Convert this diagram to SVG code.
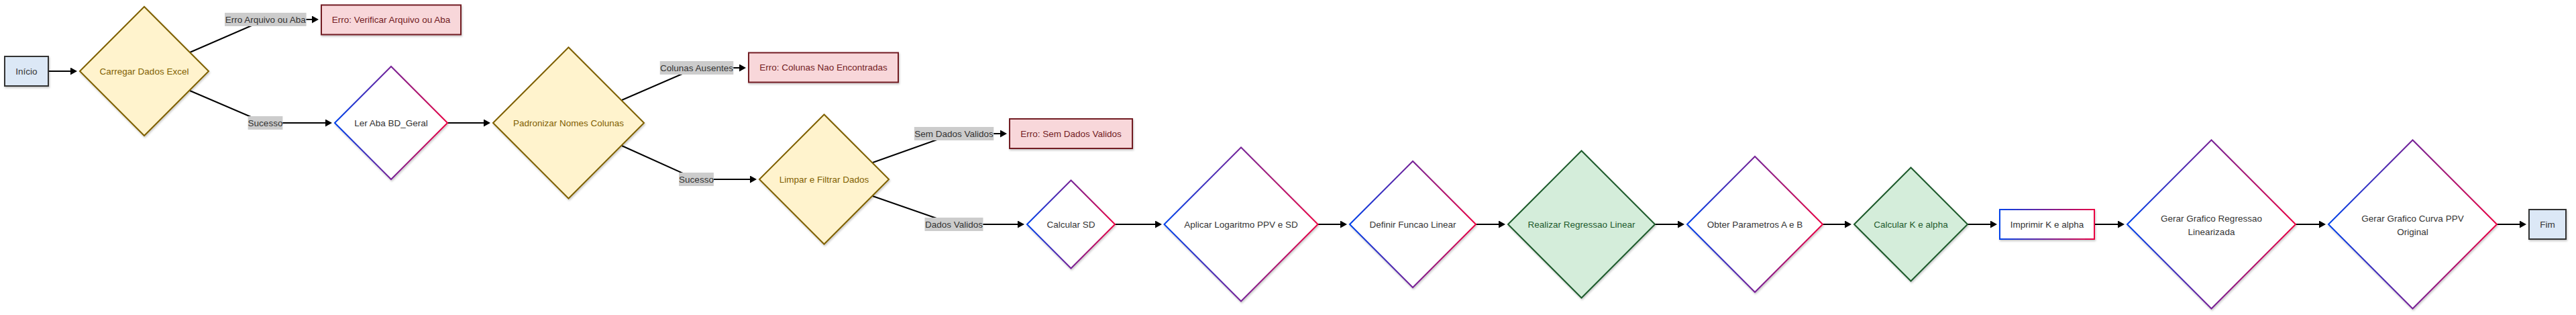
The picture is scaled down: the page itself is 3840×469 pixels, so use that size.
<svg xmlns="http://www.w3.org/2000/svg" width="3840" height="469" viewBox="0 0 3840 469">
<defs>
<linearGradient id="grad" x1="0" y1="0" x2="1" y2="0">
<stop offset="0" stop-color="#0042eb"/>
<stop offset="1" stop-color="#eb0042"/>
</linearGradient>
<filter id="shadow" x="-10%" y="-10%" width="130%" height="130%">
<feDropShadow dx="1" dy="2" stdDeviation="1.5" flood-color="#000" flood-opacity="0.22"/>
</filter>
<marker id="arrow" viewBox="0 0 10 10" refX="5" refY="5" markerWidth="10" markerHeight="11" markerUnits="userSpaceOnUse" orient="auto" preserveAspectRatio="none">
<path d="M0,0 L10,5 L0,10 z" fill="#000"/>
</marker>
</defs>
<style>
text{font-family:"Liberation Sans",Arial,sans-serif;font-size:13.5px;text-anchor:middle;fill:#333}
.term{fill:#dce8f6;stroke:#333;stroke-width:2;filter:url(#shadow)}
.warn{fill:#fff3cd;stroke:#7f6000;stroke-width:2;filter:url(#shadow)}
.warn-t{fill:#7f6000}
.err{fill:#f8d7da;stroke:#721c24;stroke-width:2;filter:url(#shadow)}
.err-t{fill:#721c24}
.ok{fill:#d4edda;stroke:#1d5a2c;stroke-width:2;filter:url(#shadow)}
.ok-t{fill:#1d5a2c}
.grad{fill:#fff;stroke:url(#grad);stroke-width:2;filter:url(#shadow)}
.edge{fill:none;stroke:#000;stroke-width:2;marker-end:url(#arrow)}
.lbl{fill:#cccccc}
</style>
<rect width="3840" height="469" fill="#fff"/>
<g id="connectors">
<path class="edge" d="M72,106 L110,106"/>
<path class="edge" d="M283,78 L396,29 L470,29"/>
<path class="edge" d="M283,135 L395,183 L490,183"/>
<path class="edge" d="M667,183 L726,183"/>
<path class="edge" d="M927,149 L1038,101 L1107,101"/>
<path class="edge" d="M927,217 L1038,267 L1123,267"/>
<path class="edge" d="M1301,242 L1422,199 L1496,199"/>
<path class="edge" d="M1301,292 L1422,334 L1522,334"/>
<path class="edge" d="M1662,334 L1727,334"/>
<path class="edge" d="M1964,334 L2003,334"/>
<path class="edge" d="M2200,334 L2239,334"/>
<path class="edge" d="M2467,334 L2506,334"/>
<path class="edge" d="M2717,334 L2755,334"/>
<path class="edge" d="M2933,334 L2972,334"/>
<path class="edge" d="M3122,334 L3162,334"/>
<path class="edge" d="M3422,334 L3462,334"/>
<path class="edge" d="M3722,334 L3761,334"/>
<g id="edge-labels">
<rect class="lbl" x="335" y="19" width="121.6" height="20"/>
<text x="395.8" y="33.8">Erro Arquivo ou Aba</text>
<rect class="lbl" x="369.6" y="173" width="51.8" height="20"/>
<text x="395.5" y="187.8">Sucesso</text>
<rect class="lbl" x="983.7" y="91" width="109.6" height="20"/>
<text x="1038.5" y="105.8">Colunas Ausentes</text>
<rect class="lbl" x="1012.1" y="257" width="51.8" height="20"/>
<text x="1038" y="271.8">Sucesso</text>
<rect class="lbl" x="1362.8" y="189" width="118.5" height="20"/>
<text x="1422" y="203.8">Sem Dados Validos</text>
<rect class="lbl" x="1378.5" y="324" width="87" height="20"/>
<text x="1422" y="338.8">Dados Validos</text>
</g>
</g>
<g id="inicio">
<rect class="term" x="7" y="84" width="65" height="44"/>
<text x="39.5" y="110.8">Início</text>
</g>
<g id="carregar">
<polygon class="warn" points="119,106 215,10 311,106 215,202"/>
<text class="warn-t" x="215" y="110.8">Carregar Dados Excel</text>
</g>
<g id="erro-arquivo">
<rect class="err" x="479" y="7.5" width="208" height="44"/>
<text class="err-t" x="583" y="34.3">Erro: Verificar Arquivo ou Aba</text>
</g>
<g id="ler-aba">
<polygon class="grad" points="499,183 583,99 667,183 583,267"/>
<text x="583" y="187.8">Ler Aba BD_Geral</text>
</g>
<g id="padronizar">
<polygon class="warn" points="735,183 847.5,70.5 960,183 847.5,295.5"/>
<text class="warn-t" x="847.5" y="187.8">Padronizar Nomes Colunas</text>
</g>
<g id="erro-colunas">
<rect class="err" x="1116" y="78.5" width="223" height="44"/>
<text class="err-t" x="1227.5" y="105.3">Erro: Colunas Nao Encontradas</text>
</g>
<g id="limpar">
<polygon class="warn" points="1132,267 1228.5,170.5 1325,267 1228.5,363.5"/>
<text class="warn-t" x="1228.5" y="271.8">Limpar e Filtrar Dados</text>
</g>
<g id="erro-sem-dados">
<rect class="err" x="1505" y="177" width="183" height="44"/>
<text class="err-t" x="1596.5" y="203.8">Erro: Sem Dados Validos</text>
</g>
<g id="calcular-sd">
<polygon class="grad" points="1531,334 1596.5,268.5 1662,334 1596.5,399.5"/>
<text x="1596.5" y="338.8">Calcular SD</text>
</g>
<g id="aplicar-log">
<polygon class="grad" points="1735.5,334 1850,219.5 1964.5,334 1850,448.5"/>
<text x="1850" y="338.8">Aplicar Logaritmo PPV e SD</text>
</g>
<g id="definir-funcao">
<polygon class="grad" points="2012,334 2106,240 2200,334 2106,428"/>
<text x="2106" y="338.8">Definir Funcao Linear</text>
</g>
<g id="realizar-regressao">
<polygon class="ok" points="2248,334 2357.5,224.5 2467,334 2357.5,443.5"/>
<text class="ok-t" x="2357.5" y="338.8">Realizar Regressao Linear</text>
</g>
<g id="obter-parametros">
<polygon class="grad" points="2515,334 2616,233 2717,334 2616,435"/>
<text x="2616" y="338.8">Obter Parametros A e B</text>
</g>
<g id="calcular-k">
<polygon class="ok" points="2764,334 2848.5,249.5 2933,334 2848.5,418.5"/>
<text class="ok-t" x="2848.5" y="338.8">Calcular K e alpha</text>
</g>
<g id="imprimir">
<rect class="grad" x="2981" y="312" width="141" height="44"/>
<text x="3051.5" y="338.8">Imprimir K e alpha</text>
</g>
<g id="grafico-regressao">
<polygon class="grad" points="3171,334 3296.5,208.5 3422,334 3296.5,459.5"/>
<text x="3296.5" y="329.8">Gerar Grafico Regressao</text>
<text x="3296.5" y="349.8">Linearizada</text>
</g>
<g id="grafico-curva">
<polygon class="grad" points="3471,334 3596.5,208.5 3722,334 3596.5,459.5"/>
<text x="3596.5" y="329.8">Gerar Grafico Curva PPV</text>
<text x="3596.5" y="349.8">Original</text>
</g>
<g id="fim">
<rect class="term" x="3770" y="312" width="55" height="44"/>
<text x="3797.5" y="338.8">Fim</text>
</g>
</svg>
